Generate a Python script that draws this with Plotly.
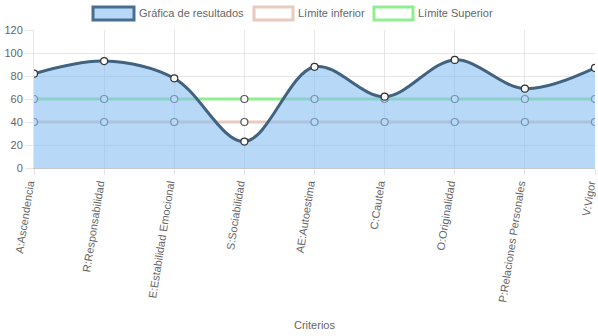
import plotly.graph_objects as go

categorias = ["A:Ascendencia", "R:Responsabilidad", "E:Estabilidad Emocional",
              "S:Sociabilidad", "AE:Autoestima", "C:Cautela", "O:Originalidad",
              "P:Relaciones Personales", "V:Vigor"]
resultados = [82, 93, 78, 23, 88, 62, 94, 69, 87]
limite_inferior = [40, 40, 40, 40, 40, 40, 40, 40, 40]
limite_superior = [60, 60, 60, 60, 60, 60, 60, 60, 60]
y_ticks = [0, 20, 40, 60, 80, 100, 120]

FONT = "Liberation Sans, Arial, sans-serif"
TXT = "#666666"
FS = 11

fig = go.Figure()
fig.add_trace(go.Scatter(
    x=categorias, y=limite_inferior, mode="lines+markers", name="Límite inferior",
    line=dict(color="#e8cabe", width=3),
    marker=dict(size=7, color="white", line=dict(color="#555555", width=1.2)),
    showlegend=False))
fig.add_trace(go.Scatter(
    x=categorias, y=limite_superior, mode="lines+markers", name="Límite Superior",
    line=dict(color="#90ee90", width=3),
    marker=dict(size=7, color="white", line=dict(color="#555555", width=1.2)),
    showlegend=False))
fig.add_trace(go.Scatter(
    x=categorias, y=resultados, mode="lines+markers", name="Gráfica de resultados",
    line=dict(color="#41637f", width=3, shape="spline", smoothing=1.0),
    fill="tozeroy", fillcolor="rgba(135,190,240,0.6)",
    marker=dict(size=7, color="white", line=dict(color="#333333", width=1.2)),
    showlegend=False))

L, R, T, B = 34, 3, 30, 168
W, H = 598, 336
pw, ph = W - L - R, H - T - B

def px(x):
    return (x - L) / pw

def py(y):
    return (H - B - y) / ph

legend_items = [
    ("Gráfica de resultados", 93, 134, "rgba(135,190,240,0.6)", "#4a6e8f"),
    ("Límite inferior", 254, 293, "white", "#e8cabe"),
    ("Límite Superior", 374, 413, "white", "#90ee90"),
]
shapes = []
annotations = []
for name, x0, x1, fc, lc in legend_items:
    shapes.append(dict(type="rect", xref="paper", yref="paper",
                       x0=px(x0), x1=px(x1), y0=py(20), y1=py(7),
                       fillcolor=fc, line=dict(color=lc, width=3)))
    annotations.append(dict(text=name, xref="paper", yref="paper",
                            x=px(x1 + 3), y=py(13.5), xanchor="left", yanchor="middle",
                            showarrow=False, font=dict(family=FONT, size=FS, color=TXT)))
annotations.append(dict(text="Criterios", xref="paper", yref="paper",
                        x=0.5, y=py(325), xanchor="center", yanchor="middle",
                        showarrow=False, font=dict(family=FONT, size=FS, color=TXT)))

fig.update_layout(
    width=W, height=H,
    margin=dict(l=L, r=R, t=T, b=B, pad=0),
    paper_bgcolor="white", plot_bgcolor="white",
    font=dict(family=FONT, size=FS, color=TXT),
    shapes=shapes, annotations=annotations,
    xaxis=dict(type="category", range=[0, len(categorias) - 1],
               showgrid=True, gridcolor="#e6e6e6", gridwidth=1,
               ticks="outside", ticklen=6, tickcolor="#e6e6e6",
               tickangle=-81, ticklabelshift=-5, ticklabelstandoff=-2,
               showline=True, linecolor="#c8c8c8", linewidth=1,
               tickfont=dict(family=FONT, size=FS, color=TXT),
               automargin=False),
    yaxis=dict(range=[0, 120], tickvals=y_ticks,
               showgrid=True, gridcolor="#e6e6e6", gridwidth=1,
               zeroline=False,
               ticks="outside", ticklen=8, tickcolor="#e6e6e6",
               showline=True, linecolor="#e6e6e6", linewidth=1,
               tickfont=dict(family=FONT, size=FS, color=TXT),
               automargin=False),
)

fig.write_html("out.html")
